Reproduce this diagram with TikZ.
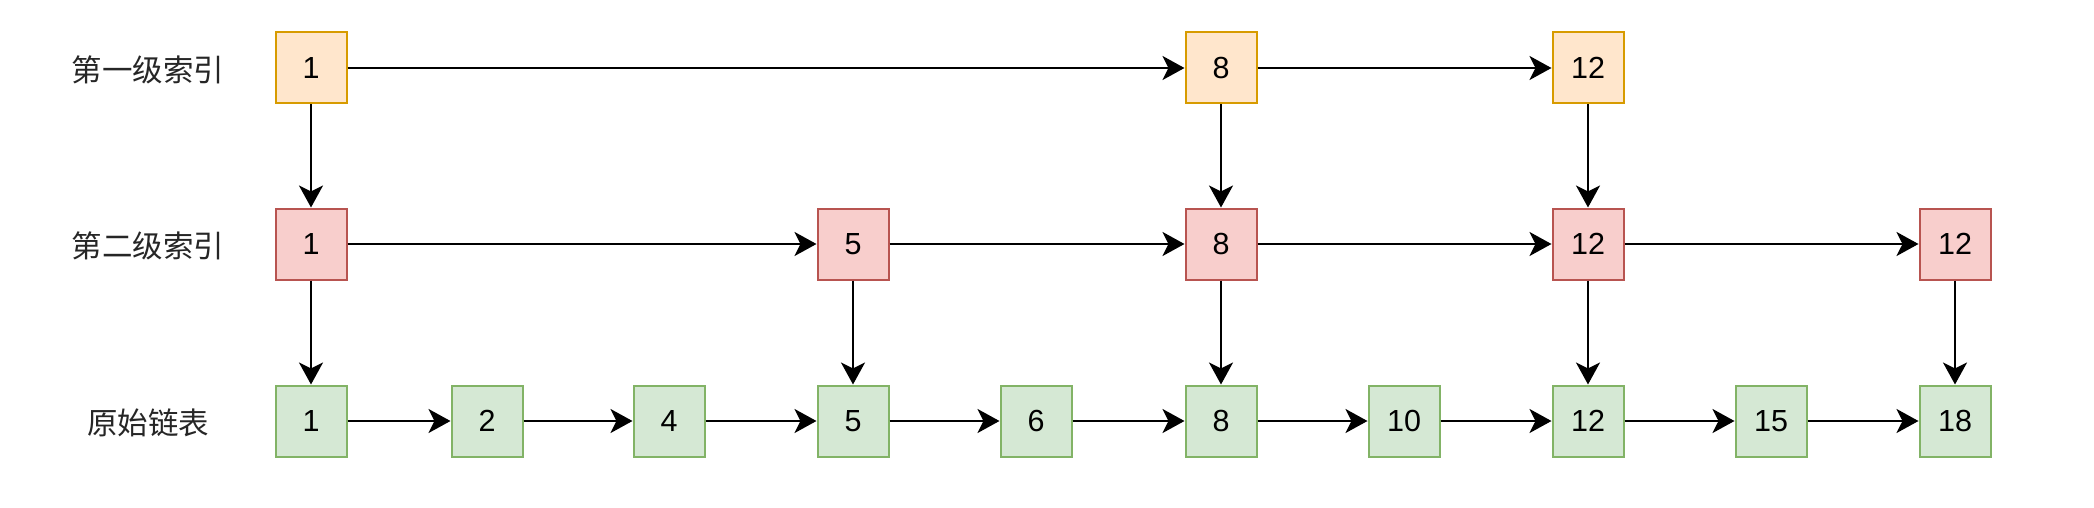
\documentclass[tikz,border=0pt]{standalone}
\usepackage{fontspec}
\setmainfont{Liberation Sans}
\newfontfamily\cjk{Noto Sans CJK SC}
\usetikzlibrary{arrows.meta}
\definecolor{orfill}{HTML}{FFE6CC}\definecolor{ordraw}{HTML}{D79B00}
\definecolor{rdfill}{HTML}{F8CECC}\definecolor{rddraw}{HTML}{B85450}
\definecolor{grfill}{HTML}{D5E8D4}\definecolor{grdraw}{HTML}{82B366}
\begin{document}
\begin{tikzpicture}[x=1pt,y=-1pt,
  cell/.style={minimum width=71pt,minimum height=71pt,inner sep=0pt,line width=2pt,font=\fontsize{30.5}{30.5}\selectfont},
  lv1/.style={cell,fill=orfill,draw=ordraw},
  lv2/.style={cell,fill=rdfill,draw=rddraw},
  lv3/.style={cell,fill=grfill,draw=grdraw},
  lab/.style={font=\cjk\fontsize{30.5}{30.5}\selectfont,text=black!85},
  link/.style={line width=2.5pt,-{Stealth[length=22pt,width=24pt,inset=6pt]}}]
\useasboundingbox (0,0) rectangle (2094,508);
% labels
\node[lab] (L1) at (148,70) {第一级索引};
\node[lab] (L2) at (148,246) {第二级索引};
\node[lab] (L3) at (148,423) {原始链表};
% level 1
\node[lv1] (a1) at (311,68) {1};
\node[lv1] (a8) at (1221,68) {8};
\node[lv1] (a12) at (1588,68) {12};
% level 2
\node[lv2] (b1) at (311,244) {1};
\node[lv2] (b5) at (853,244) {5};
\node[lv2] (b8) at (1221,244) {8};
\node[lv2] (b12) at (1588,244) {12};
\node[lv2] (b18) at (1955,244) {12};
% level 3
\node[lv3] (c1) at (311,421) {1};
\node[lv3] (c2) at (487,421) {2};
\node[lv3] (c4) at (669,421) {4};
\node[lv3] (c5) at (853,421) {5};
\node[lv3] (c6) at (1036,421) {6};
\node[lv3] (c8) at (1221,421) {8};
\node[lv3] (c10) at (1404,421) {10};
\node[lv3] (c12) at (1588,421) {12};
\node[lv3] (c15) at (1771,421) {15};
\node[lv3] (c18) at (1955,421) {18};
% horizontal links
\draw[link] (a1) -- (a8);
\draw[link] (a8) -- (a12);
\draw[link] (b1) -- (b5);
\draw[link] (b5) -- (b8);
\draw[link] (b8) -- (b12);
\draw[link] (b12) -- (b18);
\draw[link] (c1) -- (c2);
\draw[link] (c2) -- (c4);
\draw[link] (c4) -- (c5);
\draw[link] (c5) -- (c6);
\draw[link] (c6) -- (c8);
\draw[link] (c8) -- (c10);
\draw[link] (c10) -- (c12);
\draw[link] (c12) -- (c15);
\draw[link] (c15) -- (c18);
% vertical links
\draw[link] (a1) -- (b1);
\draw[link] (a8) -- (b8);
\draw[link] (a12) -- (b12);
\draw[link] (b1) -- (c1);
\draw[link] (b5) -- (c5);
\draw[link] (b8) -- (c8);
\draw[link] (b12) -- (c12);
\draw[link] (b18) -- (c18);
\end{tikzpicture}
\end{document}
